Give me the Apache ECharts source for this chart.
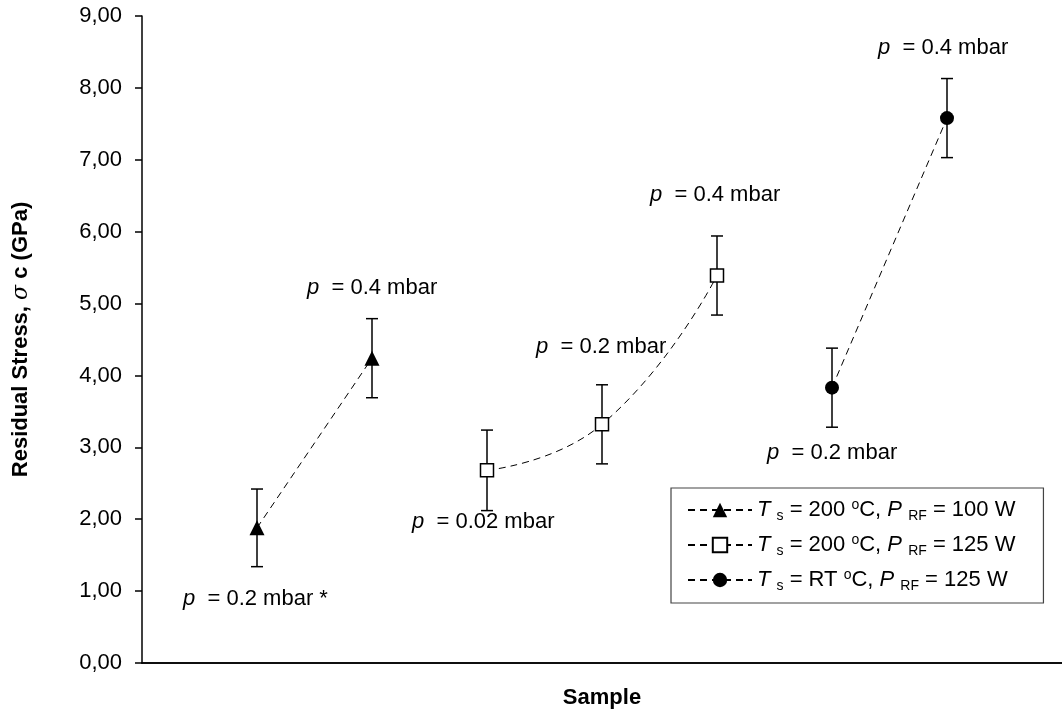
<!DOCTYPE html>
<html>
<head>
<meta charset="utf-8">
<title>Residual Stress</title>
<script src="https://cdn.jsdelivr.net/npm/echarts@6/dist/echarts.min.js"></script>
<style>
  html, body { margin: 0; padding: 0; background: #fff; }
  #chart { width: 1062px; height: 718px; }
</style>
</head>
<body>
<div id="chart"></div>
<script>
// Sample positions along the x axis
const triSamples = [1, 2];
const sqSamples = [3, 4, 5];
const circSamples = [6, 7];

// Residual stress (GPa) and error half-widths
const triStress = [1.88, 4.24];
const triError = [0.54, 0.55];
const sqStress = [2.68, 3.32, 5.39];
const sqError = [0.56, 0.55, 0.55];
const circStress = [3.83, 7.58];
const circError = [0.55, 0.55];

// Deposition pressure of each sample
const triPressure = ['0.2 mbar *', '0.4 mbar'];
const sqPressure = ['0.02 mbar', '0.2 mbar', '0.4 mbar'];
const circPressure = ['0.2 mbar', '0.4 mbar'];

// Stress axis ticks
const yTicks = [0, 1, 2, 3, 4, 5, 6, 7, 8, 9];

// Offsets (px) of each pressure label from its marker
const triLabelOffsets = [[-74, 71], [-65, -70]];
const sqLabelOffsets = [[-75, 52], [-66, -77], [-67, -81]];
const circLabelOffsets = [[-65, 65], [-69, -70]];

const FONT = '"Liberation Sans", Arial, Helvetica, sans-serif';
const BASE = 22;

const richText = {
  n: { fontSize: BASE, fontFamily: FONT, color: '#000' },
  i: { fontSize: BASE, fontFamily: FONT, fontStyle: 'italic', color: '#000' },
  sub: { fontSize: 14, fontFamily: FONT, color: '#000', verticalAlign: 'bottom', lineHeight: 14, padding: [0, 0, -2, 0] },
  sup: { fontSize: 14, fontFamily: FONT, color: '#000', verticalAlign: 'top', lineHeight: 14, padding: [-1, 0, 0, 0] }
};

const legendText = {
  tri: '{i|T}{n| }{sub|s}{n| = 200 }{sup|o}{n|C, }{i|P}{n| }{sub|RF}{n| = 100 W}',
  sq: '{i|T}{n| }{sub|s}{n| = 200 }{sup|o}{n|C, }{i|P}{n| }{sub|RF}{n| = 125 W}',
  circ: '{i|T}{n| }{sub|s}{n| = RT }{sup|o}{n|C, }{i|P}{n| }{sub|RF}{n| = 125 W}'
};

function points(xs, ys, pressures, offsets) {
  return xs.map(function (x, k) {
    return {
      value: [x, ys[k]],
      label: {
        show: true,
        position: 'inside',
        align: 'left',
        verticalAlign: 'middle',
        offset: offsets[k],
        formatter: '{i|p}{n|  = ' + pressures[k] + '}',
        rich: richText
      }
    };
  });
}

function errorRows(xs, ys, es) {
  return xs.map(function (x, k) { return [x, ys[k], es[k]]; });
}

function renderErrorBar(params, api) {
  const x = api.value(0);
  const y = api.value(1);
  const e = api.value(2);
  const hi = api.coord([x, y + e]);
  const lo = api.coord([x, y - e]);
  const cap = 6;
  const st = { stroke: '#000', lineWidth: 1.5 };
  return {
    type: 'group',
    children: [
      { type: 'line', shape: { x1: hi[0], y1: hi[1], x2: lo[0], y2: lo[1] }, style: st },
      { type: 'line', shape: { x1: hi[0] - cap, y1: hi[1], x2: hi[0] + cap, y2: hi[1] }, style: st },
      { type: 'line', shape: { x1: lo[0] - cap, y1: lo[1], x2: lo[0] + cap, y2: lo[1] }, style: st }
    ]
  };
}

const dashed = { color: '#000', width: 1, type: [7, 5] };

const chart = echarts.init(document.getElementById('chart'), null, { renderer: 'canvas' });

chart.setOption({
  animation: false,
  backgroundColor: '#fff',
  textStyle: { fontFamily: FONT },
  grid: { left: 142, top: 16, width: 924, height: 647, containLabel: false },
  xAxis: [
    {
      type: 'value', min: 0, max: 8, interval: 1,
      name: 'Sample', nameLocation: 'middle', nameGap: 24,
      nameTextStyle: { fontSize: BASE, fontWeight: 'bold', fontFamily: FONT, color: '#000' },
      axisLine: { show: true, onZero: false, lineStyle: { color: '#000', width: 1.5 } },
      axisTick: { show: false },
      axisLabel: { show: false },
      splitLine: { show: false }
    },
    {
      type: 'value', min: 0, max: 8, position: 'top',
      axisLine: { show: true, lineStyle: { color: '#000', width: 1.5 } },
      axisTick: { show: false },
      axisLabel: { show: false },
      splitLine: { show: false }
    }
  ],
  yAxis: {
    type: 'value', min: yTicks[0], max: yTicks[yTicks.length - 1], interval: 1,
    name: '{b|Residual Stress, }{s|σ}{b| c (GPa)}',
    nameLocation: 'middle', nameGap: 110,
    nameTextStyle: {
      rich: {
        b: { fontSize: BASE, fontWeight: 'bold', fontFamily: FONT, color: '#000' },
        s: { fontSize: BASE, fontStyle: 'italic', fontFamily: '"DejaVu Serif", serif', color: '#000' }
      }
    },
    axisLine: { show: true, lineStyle: { color: '#000', width: 1.5 } },
    axisTick: { show: true, inside: false, length: 7, lineStyle: { color: '#000', width: 1.5 } },
    axisLabel: {
      margin: 20, fontSize: BASE, fontFamily: FONT, color: '#000',
      formatter: function (v) { return v.toFixed(2).replace('.', ','); }
    },
    splitLine: { show: false }
  },
  legend: {
    orient: 'vertical',
    left: 671, top: 488,
    data: ['tri', 'sq', 'circ'],
    itemWidth: 64, itemHeight: 18, itemGap: 10,
    padding: [10, 28, 10, 16],
    backgroundColor: '#fff',
    borderColor: '#444', borderWidth: 1.2, borderRadius: 0,
    selectedMode: false,
    formatter: function (name) { return legendText[name]; },
    textStyle: { fontSize: BASE, fontFamily: FONT, color: '#000', rich: richText }
  },
  series: [
    {
      type: 'custom', name: 'triErr', renderItem: renderErrorBar, z: 2,
      encode: { x: 0, y: 1 }, data: errorRows(triSamples, triStress, triError), silent: true
    },
    {
      type: 'custom', name: 'sqErr', renderItem: renderErrorBar, z: 2,
      encode: { x: 0, y: 1 }, data: errorRows(sqSamples, sqStress, sqError), silent: true
    },
    {
      type: 'custom', name: 'circErr', renderItem: renderErrorBar, z: 2,
      encode: { x: 0, y: 1 }, data: errorRows(circSamples, circStress, circError), silent: true
    },
    {
      type: 'line', name: 'tri', z: 3,
      symbol: 'triangle', symbolSize: 15,
      itemStyle: { color: '#000' },
      lineStyle: dashed,
      data: points(triSamples, triStress, triPressure, triLabelOffsets)
    },
    {
      type: 'line', name: 'sq', z: 3, smooth: 0.5,
      symbol: 'rect', symbolSize: 13,
      itemStyle: { color: '#fff', borderColor: '#000', borderWidth: 1.5 },
      lineStyle: dashed,
      data: points(sqSamples, sqStress, sqPressure, sqLabelOffsets)
    },
    {
      type: 'line', name: 'circ', z: 3,
      symbol: 'circle', symbolSize: 14,
      itemStyle: { color: '#000' },
      lineStyle: dashed,
      data: points(circSamples, circStress, circPressure, circLabelOffsets)
    }
  ]
});
</script>
</body>
</html>
